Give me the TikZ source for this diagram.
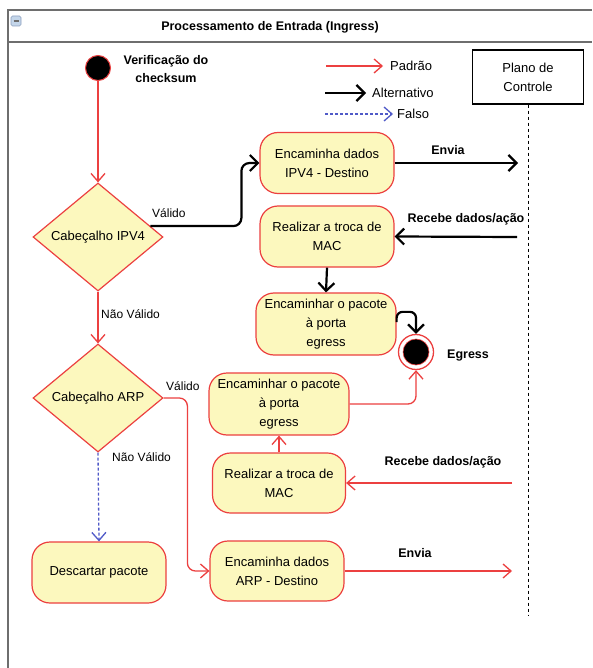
\documentclass[tikz,border=0pt]{standalone}
\usepackage{fontspec}
\setmainfont{Liberation Sans}
\usetikzlibrary{shapes.geometric,arrows.meta,calc}

\definecolor{flowred}{RGB}{236,64,64}
\definecolor{actfill}{RGB}{252,248,190}
\definecolor{falseblue}{RGB}{80,90,200}
\definecolor{framegray}{RGB}{110,110,110}
\definecolor{iconfill}{RGB}{196,214,234}
\definecolor{iconedge}{RGB}{140,160,190}

\tikzset{
  act/.style={draw=flowred, fill=actfill, line width=1.2pt, rounded corners=18pt,
    minimum width=134pt, minimum height=61pt, align=center, inner sep=2pt,
    font=\fontsize{13}{19}\selectfont},
  dec/.style={diamond, draw=flowred, fill=actfill, line width=1.2pt, shape aspect=1.2,
    inner sep=0pt, minimum width=130pt, minimum height=108pt,
    font=\fontsize{13}{16}\selectfont},
  std/.style={draw=flowred, line width=1.3pt, -{Straight Barb[length=8pt,width=14pt]}},
  alt/.style={draw=black, line width=2.2pt, -{Straight Barb[length=8pt,width=16pt]}},
  falso/.style={draw=falseblue, line width=1.3pt, dash pattern=on 3pt off 2pt,
    -{Straight Barb[length=8pt,width=14pt]}},
  lbl/.style={font=\fontsize{12}{14}\selectfont, inner sep=0pt},
  leg/.style={font=\fontsize{13}{15}\selectfont, inner sep=0pt, anchor=west},
  boldlbl/.style={font=\bfseries\fontsize{12.5}{18}\selectfont, inner sep=0pt, align=center},
}

\begin{document}
\begin{tikzpicture}[x=1pt,y=-1pt]
  \fill[white] (0,0) rectangle (592,668);
  \useasboundingbox (0,0) rectangle (592,668);

  % swimlane frame and title bar
  \draw[framegray, line width=1.8pt] (8,668) -- (8,10) -- (592,10);
  \draw[framegray, line width=1.8pt] (8,42) -- (592,42);
  \draw[iconedge, fill=iconfill, rounded corners=1.5pt, line width=0.6pt] (11,16) rectangle (21,26);
  \draw[framegray, line width=1.4pt] (13.5,21) -- (18.5,21);
  \node[font=\bfseries\fontsize{12.5}{15}\selectfont] (title) at (270,27) {Processamento de Entrada (Ingress)};

  % legend
  \coordinate (lgA1) at (326,66);  \coordinate (lgA2) at (383,66);
  \coordinate (lgB1) at (325,93);  \coordinate (lgB2) at (366,93);
  \coordinate (lgC1) at (325,114); \coordinate (lgC2) at (393,114);
  \draw[std] (lgA1) -- (lgA2);
  \draw[alt] (lgB1) -- (lgB2);
  \draw[falso] (lgC1) -- (lgC2);
  \node[leg] (lgAt) at (390,66) {Padrão};
  \node[leg] (lgBt) at (372,93) {Alternativo};
  \node[leg] (lgCt) at (397,114) {Falso};

  % control plane lifeline
  \node[draw, line width=1.2pt, minimum width=111pt, minimum height=54pt, align=center,
        font=\fontsize{13}{19}\selectfont] (ctrl) at (528,77) {Plano de\\Controle};
  \coordinate (lifeEnd) at (528,615);
  \draw[line width=1pt, dash pattern=on 3pt off 3pt] (ctrl.south) -- (lifeEnd);

  % start and end
  \node[circle, fill=black, draw=flowred, line width=1pt, minimum size=25pt, inner sep=0pt] (start) at (98,68) {};
  \node[boldlbl] (startlbl) at (166,69) {Verificação do\\checksum};
  \node[circle, draw=flowred, fill=white, line width=1.3pt, minimum size=35pt, inner sep=0pt] (endc) at (416,352) {};
  \node[circle, fill=black, draw=flowred, line width=0.6pt, minimum size=26pt, inner sep=0pt] (endin) at (416,352) {};
  \node[boldlbl, anchor=west] (egresslbl) at (447,356) {Egress};

  % decisions
  \node[dec] (dec1) at (98,237) {Cabeçalho IPV4};
  \node[dec] (dec2) at (98,398) {Cabeçalho ARP};

  % actions
  \node[act] (ipv4) at (327,163) {Encaminha dados\\IPV4 - Destino};
  \node[act] (mac1) at (327,236.5) {Realizar a troca de\\MAC};
  \node[act, minimum width=140pt, minimum height=62pt] (fwd1) at (326,324) {Encaminhar o pacote\\à porta\\egress};
  \node[act, minimum width=140pt, minimum height=62pt] (fwd2) at (279,404) {Encaminhar o pacote\\à porta\\egress};
  \node[act, minimum width=133pt, minimum height=60pt] (mac2) at (279,483) {Realizar a troca de\\MAC};
  \node[act, minimum height=60pt] (arp) at (277,571) {Encaminha dados\\ARP - Destino};
  \node[act] (drop) at (99,572.5) {Descartar pacote};

  % main flow
  \draw[std] (start.south) -- (dec1.north);
  \draw[std] (dec1.south) -- (dec2.north);
  \node[lbl, anchor=west] (nv1) at (101,314) {Não Válido};
  \draw[falso] (dec2.south) -- (drop.north);
  \node[lbl, anchor=west] (nv2) at (112,457) {Não Válido};

  % IPv4 branch
  \draw[alt, rounded corners=8pt] ($(dec1.east)!0.2!(dec1.north)$) -| ([xshift=-18pt]ipv4.west) -- (ipv4.west);
  \node[lbl, anchor=west] (v1) at (152,213) {Válido};
  \coordinate (envia1) at (518,163);
  \draw[alt] (ipv4.east) -- (envia1);
  \node[boldlbl] (envia1lbl) at (448,150) {Envia};
  \coordinate (recv1) at (517,237);
  \draw[alt] (recv1) -- (mac1.east);
  \node[boldlbl] (recv1lbl) at (466,219) {Recebe dados/ação};
  \draw[alt] (mac1.south) -- (fwd1.north);
  \draw[alt, rounded corners=6pt] ([yshift=2pt]fwd1.east) |- ([yshift=22pt]endc.north) -- (endc.north);

  % ARP branch
  \draw[std, rounded corners=8pt] (dec2.east) -| ([xshift=-22pt]arp.west) -- (arp.west);
  \node[lbl, anchor=west] (v2) at (166,386) {Válido};
  \coordinate (envia2) at (512,571);
  \draw[std] (arp.east) -- (envia2);
  \node[boldlbl] (envia2lbl) at (415,553) {Envia};
  \coordinate (recv2) at (512,483);
  \draw[std] (recv2) -- (mac2.east);
  \node[boldlbl] (recv2lbl) at (443,462) {Recebe dados/ação};
  \draw[std] (mac2.north) -- (fwd2.south);
  \draw[std, rounded corners=8pt] (fwd2.east) -| (endc.south);
\end{tikzpicture}
\end{document}
